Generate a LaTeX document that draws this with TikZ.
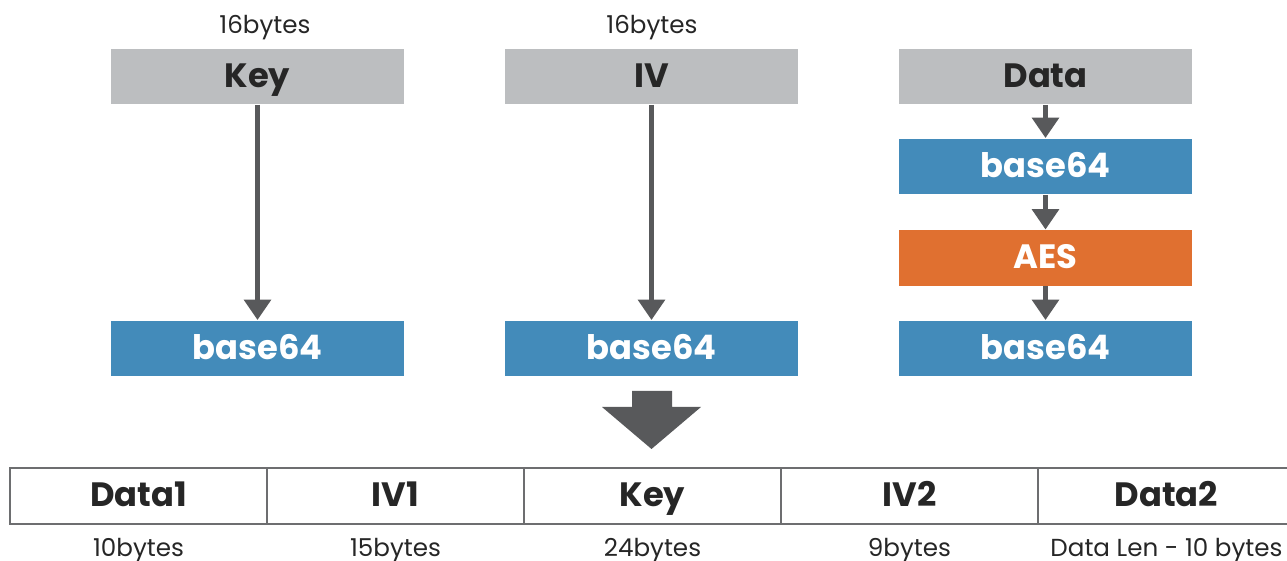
\documentclass[tikz,border=0pt]{standalone}
\usepackage{fontspec}
\setmainfont{Poppins}
\usepackage{xcolor}
\usepackage{tikz}
\usetikzlibrary{
    calc,
    arrows.meta,
    positioning
}
\definecolor{boxgray}{HTML}{BCBEC0}
\definecolor{boxblue}{HTML}{438BBA}
\definecolor{boxorange}{HTML}{E07030}
\definecolor{arrowgray}{HTML}{58595B}
\definecolor{tablegray}{HTML}{6D6E70}
\tikzset{
    % coloured boxes of the three columns
    block/.style={
        minimum width=2.93cm, minimum height=0.555cm,
        inner sep=0pt, text height=0.72em, text depth=0.12em,
        font=\bfseries\fontsize{9.6}{11}\selectfont
    },
    input/.style={block, fill=boxgray, text=black!85},
    codec/.style={block, fill=boxblue, text=white},
    cipher/.style={block, fill=boxorange, text=white},
    % cells of the packed result
    cell/.style={
        draw=tablegray, line width=0.6pt, minimum width=2.57cm,
        minimum height=0.56cm, inner sep=0pt,
        text height=0.72em, text depth=0.12em,
        font=\bfseries\fontsize{9.6}{11}\selectfont, text=black!85
    },
    size/.style={inner sep=0.5pt, font=\fontsize{7}{8}\selectfont, text=black!85},
    flow/.style={
        draw=arrowgray, line width=1.4pt,
        -{Triangle[width=7.5pt, length=5.8pt]}
    }
}

\begin{document}
\begin{tikzpicture}[x=0.01cm, y=-0.01cm]
    \useasboundingbox (0,0) rectangle (1287,561);
    % inputs
    \node[input] (key) at (257.5,76.5) {Key};
    \node[input] (iv) at (651.5,76.5) {IV};
    \node[input] (data) at (1045.5,76.5) {Data};
    \node[size] (keysize) at (265,28) {16bytes};
    \node[size] (ivsize) at (652,28) {16bytes};
    % encodings
    \node[codec] (keyenc) at (257.5,348.5) {base64};
    \node[codec] (ivenc) at (651.5,348.5) {base64};
    \node[codec] (dataenc) at (1045.5,166.5) {base64};
    \node[cipher] (aes) at (1045.5,258) {AES};
    \node[codec] (dataout) at (1045.5,348.5) {base64};
    \draw[flow] (key) -- (keyenc);
    \draw[flow] (iv) -- (ivenc);
    \draw[flow] (data) -- (dataenc);
    \draw[flow] (dataenc) -- (aes);
    \draw[flow] (aes) -- (dataout);
    % big arrow
    \fill[arrowgray] (632,391) -- (672,391) -- (672,407) -- (701,407)
        -- (651.5,449) -- (602,407) -- (632,407) -- cycle;
    % packed result
    \foreach \name/\txt/\len [count=\i from 0] in
        {d1/Data1/10bytes, v1/IV1/15bytes, k/Key/24bytes,
         v2/IV2/9bytes, d2/Data2/Data Len - 10 bytes} {
        \node[cell] (\name) at ({138.5+257*\i},496) {\txt};
        \node[size] (\name size) at ({138.5+257*\i},551) {\len};
    }
\end{tikzpicture}
\end{document}
